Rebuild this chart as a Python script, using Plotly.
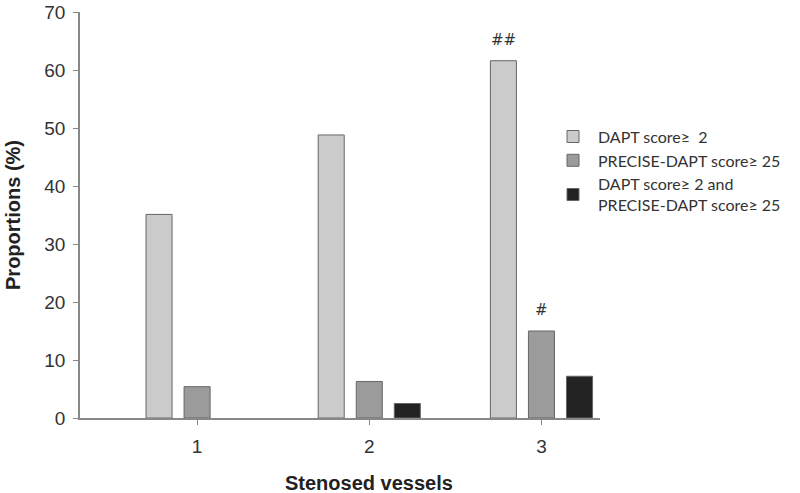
import plotly.graph_objects as go

# ---- data ----
stenosed_vessels = [1, 2, 3]
tick_labels = ["1", "2", "3"]
dapt_ge2 = [35.1, 48.8, 61.6]
precise_ge25 = [5.4, 6.3, 15.0]
both = [None, 2.5, 7.2]
series_names = [
    "DAPT score\u2265  2",
    "PRECISE-DAPT score\u2265 25",
    "DAPT score\u2265 2 and<br>PRECISE-DAPT score\u2265 25",
]
sig_marks = [("##", 0, 2), ("#", 1, 2)]  # (text, series index, category index)

fills = ["#cbcbcb", "#9b9b9b", "#222222"]
outline = "#666666"
series_values = [dapt_ge2, precise_ge25, both]

fig = go.Figure()
for name, vals, col in zip(series_names, series_values, fills):
    fig.add_trace(go.Bar(
        x=stenosed_vessels, y=vals, name=name,
        marker=dict(color=col, line=dict(color=outline, width=1)),
    ))

# significance marks above bars
slot_px = 38
for txt, si, ci in sig_marks:
    fig.add_annotation(
        x=stenosed_vessels[ci], y=series_values[si][ci], xref="x", yref="y",
        text=txt, showarrow=False, xshift=(si - 1) * slot_px, yshift=10,
        yanchor="bottom", font=dict(family="DejaVu Sans", size=15, color="#333333"),
    )

# x-axis title centred on middle category
fig.add_annotation(
    x=stenosed_vessels[1], y=0, xref="x", yref="paper", yshift=-65,
    text="<b>Stenosed vessels</b>", showarrow=False, yanchor="middle",
    font=dict(family="Liberation Sans", size=20, color="#222222"),
)

fig.update_layout(
    width=800, height=493,
    margin=dict(l=80, r=200, t=12, b=75),
    plot_bgcolor="white", paper_bgcolor="white",
    barmode="group", bargap=0.337, bargroupgap=0.316,
    showlegend=True,
    legend=dict(
        x=0.90, y=0.735, xanchor="left", yanchor="top",
        font=dict(family="Lato", size=16, color="#333333"),
        itemwidth=40, tracegroupgap=6, bgcolor="rgba(0,0,0,0)",
    ),
    font=dict(family="Liberation Sans", color="#333333"),
)
fig.update_xaxes(
    range=[0.32, 3.34], tickvals=stenosed_vessels, ticktext=tick_labels,
    showline=True, linecolor="#888888", linewidth=1.5, ticks="outside",
    ticklen=5, tickcolor="#888888", showgrid=False, zeroline=False,
    tickfont=dict(size=19, color="#333333"), ticklabelstandoff=5,
    automargin=False,
)
fig.update_yaxes(
    range=[0, 70], dtick=10, showline=True, linecolor="#888888", linewidth=1.5,
    ticks="outside", ticklen=5, tickcolor="#888888", showgrid=False, zeroline=False,
    tickfont=dict(size=19, color="#333333"), ticklabelstandoff=4,
    title=dict(text="<b>Proportions (%)</b>", font=dict(size=20, color="#222222"), standoff=18),
    automargin=False, ticklabeloverflow="allow",
)

fig.write_html("out.html", config={"displayModeBar": False},
               post_script="document.body.style.margin='0';")
